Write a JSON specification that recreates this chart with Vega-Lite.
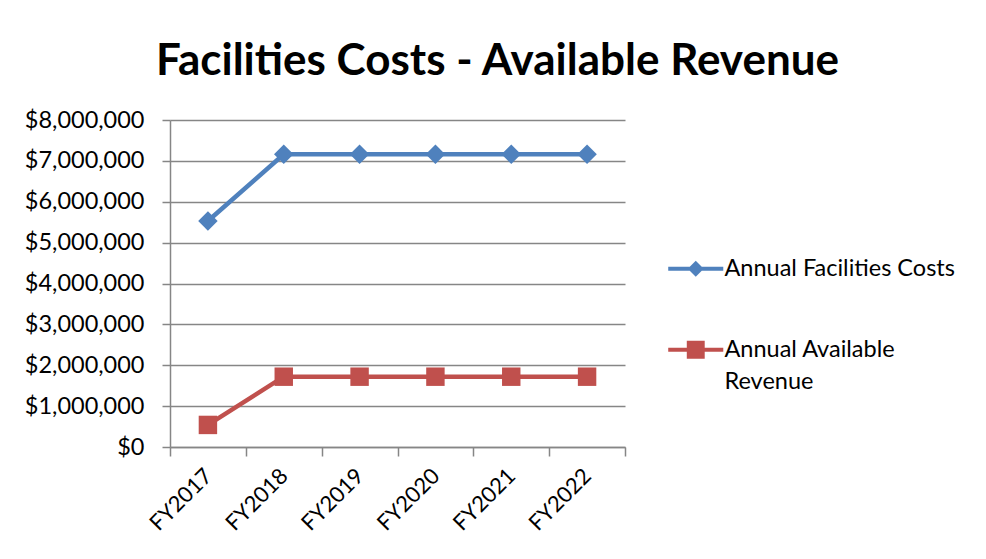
{
  "$schema": "https://vega.github.io/schema/vega-lite/v6.json",
  "autosize": {"type": "none"},
  "width": 455,
  "height": 327,
  "padding": {"left": 170, "top": 120, "right": 361, "bottom": 112},
  "background": "white",
  "title": {
    "text": "Facilities Costs - Available Revenue",
    "font": "Lato",
    "fontSize": 44,
    "fontWeight": "bold",
    "color": "#000000",
    "anchor": "middle",
    "dx": 100,
    "offset": 24
  },
  "data": {
    "values": [
      {"year": 2017, "series": "Annual Facilities Costs", "value": 5530000},
      {"year": 2018, "series": "Annual Facilities Costs", "value": 7160000},
      {"year": 2019, "series": "Annual Facilities Costs", "value": 7160000},
      {"year": 2020, "series": "Annual Facilities Costs", "value": 7160000},
      {"year": 2021, "series": "Annual Facilities Costs", "value": 7160000},
      {"year": 2022, "series": "Annual Facilities Costs", "value": 7160000},
      {"year": 2017, "series": "Annual Available Revenue", "value": 540000},
      {"year": 2018, "series": "Annual Available Revenue", "value": 1720000},
      {"year": 2019, "series": "Annual Available Revenue", "value": 1720000},
      {"year": 2020, "series": "Annual Available Revenue", "value": 1720000},
      {"year": 2021, "series": "Annual Available Revenue", "value": 1720000},
      {"year": 2022, "series": "Annual Available Revenue", "value": 1720000}
    ]
  },
  "encoding": {
    "x": {
      "field": "year",
      "type": "quantitative",
      "scale": {"domain": [2016.5, 2022.5], "nice": false, "zero": false},
      "axis": {
        "title": null,
        "values": [2016.5, 2017.5, 2018.5, 2019.5, 2020.5, 2021.5, 2022.5],
        "labelExpr": "datum.value < 2022 ? 'FY' + (datum.value + 0.5) : ''",
        "labelOffset": 38,
        "labelAngle": -45,
        "labelAlign": "right",
        "labelBaseline": "middle",
        "labelOverlap": false,
        "labelBound": false,
        "labelFlush": false,
        "labelPadding": 16,
        "labelFont": "Lato",
        "labelFontSize": 22,
        "labelColor": "#000000",
        "grid": false,
        "domainColor": "#868686",
        "tickColor": "#868686",
        "tickSize": 9,
        "domainWidth": 1.5,
        "tickWidth": 1.5
      }
    },
    "y": {
      "field": "value",
      "type": "quantitative",
      "scale": {"domain": [0, 8000000], "nice": false},
      "axis": {
        "title": null,
        "values": [0, 1000000, 2000000, 3000000, 4000000, 5000000, 6000000, 7000000, 8000000],
        "format": "$,.0f",
        "labelFont": "Lato",
        "labelFontSize": 23.5,
        "labelColor": "#000000",
        "labelPadding": 18,
        "labelOverlap": false,
        "labelBound": false,
        "labelFlush": false,
        "grid": true,
        "gridColor": "#868686",
        "gridWidth": 1.5,
        "domainColor": "#868686",
        "tickColor": "#868686",
        "tickSize": 8,
        "domainWidth": 1.5,
        "tickWidth": 1.5
      }
    }
  },
  "layer": [
    {
      "transform": [{"filter": "datum.series == 'Annual Facilities Costs'"}],
      "layer": [
        {
          "mark": {"type": "line", "strokeWidth": 4.5},
          "encoding": {
            "color": {
              "field": "series",
              "type": "nominal",
              "scale": {"domain": ["Annual Facilities Costs"], "range": ["#4F81BD"]},
              "legend": {
                "title": null,
                "orient": "none",
                "legendX": 514,
                "legendY": 137,
                "padding": 0,
                "symbolType": "M-3.44,-0.25H3.44V0.25H-3.44Z M0,-1L1,0L0,1L-1,0Z",
                "symbolSize": 256,
                "symbolFillColor": "#4F81BD",
                "symbolStrokeWidth": 0,
                "symbolOpacity": 1,
                "labelOffset": 17,
                "labelFont": "Lato",
                "labelFontSize": 23.5,
                "labelColor": "#000000",
                "labelLimit": 400,
                "encode": {
                  "symbols": {
                    "update": {
                      "fill": {"value": "#4F81BD"},
                      "strokeWidth": {"value": 0}
                    }
                  },
                  "labels": {
                    "update": {
                      "baseline": {"value": "top"},
                      "dy": {"value": -12}
                    }
                  }
                }
              }
            }
          }
        },
        {
          "mark": {"type": "point", "filled": true, "opacity": 1, "strokeWidth": 0, "shape": "diamond", "size": 380, "color": "#4F81BD"}
        }
      ]
    },
    {
      "transform": [{"filter": "datum.series == 'Annual Available Revenue'"}],
      "layer": [
        {
          "mark": {"type": "line", "strokeWidth": 4.5},
          "encoding": {
            "color": {
              "field": "series",
              "type": "nominal",
              "scale": {"domain": ["Annual Available Revenue"], "range": ["#C0504D"]},
              "legend": {
                "title": null,
                "orient": "none",
                "legendX": 514,
                "legendY": 218,
                "padding": 0,
                "symbolType": "M-3.44,-0.25H3.44V0.25H-3.44Z M-1.12,-1.12H1.12V1.12H-1.12Z",
                "symbolSize": 256,
                "symbolFillColor": "#C0504D",
                "symbolStrokeWidth": 0,
                "symbolOpacity": 1,
                "labelOffset": 17,
                "labelFont": "Lato",
                "labelFontSize": 23.5,
                "labelColor": "#000000",
                "labelLimit": 400,
                "labelExpr": "['Annual Available', 'Revenue']",
                "encode": {
                  "symbols": {
                    "update": {
                      "fill": {"value": "#C0504D"},
                      "strokeWidth": {"value": 0}
                    }
                  },
                  "labels": {
                    "update": {
                      "baseline": {"value": "top"},
                      "dy": {"value": -12},
                      "lineHeight": {"value": 32}
                    }
                  }
                }
              }
            }
          }
        },
        {
          "mark": {"type": "point", "filled": true, "opacity": 1, "strokeWidth": 0, "shape": "square", "size": 340, "color": "#C0504D"}
        }
      ]
    }
  ],
  "resolve": {"scale": {"color": "independent"}, "legend": {"color": "independent"}},
  "config": {
    "view": {"stroke": null}
  }
}
